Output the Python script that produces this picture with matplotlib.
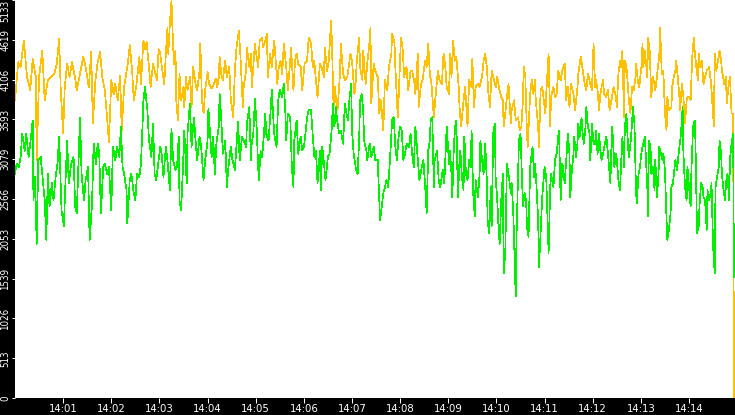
import matplotlib
matplotlib.use("Agg")
import matplotlib.pyplot as plt

# seconds after 14:00:00 and values
orange_sec = [
    0,4,7,11,15,19,22,26,27,30,34,37,41,45,49,52,55,57,60,62,65,68,71,75,77,81,85,88,92,95,97,100,103,106,109,112,115,117,120,123,125,128,131,133,136,138,141,143,146,148,151,155,157,160,162,164,167,169,172,174,177,179,
    181,183,186,188,190,191,193,195,196,198,200,201,203,205,207,210,211,213,215,218,220,222,225,227,230,231,233,235,237,240,242,245,247,250,252,254,255,257,259,262,264,267,269,272,274,276,279,281,284,285,288,289,292,294,295,297,299,300,303,305,308,309,312,314,315,318,320,323,324,327,328,331,333,335,338,340,343,344,347,349,351,353,356,358,360,
    361,364,366,369,371,373,375,377,380,382,385,386,389,391,394,395,397,399,400,402,405,406,409,411,414,416,418,420,423,424,426,429,430,433,434,437,439,442,443,444,447,449,452,454,456,459,461,464,466,469,470,473,474,477,478,481,483,485,488,490,493,495,498,499,502,503,506,508,511,513,515,517,519,522,524,527,529,532,534,536,538,541,
    542,544,546,548,550,553,554,556,559,561,563,564,566,569,570,572,574,577,579,582,584,586,588,590,592,594,596,599,601,603,606,608,609,611,613,615,618,619,622,624,627,629,631,633,634,636,638,639,642,644,646,648,649,652,653,655,657,659,661,662,665,667,668,671,673,675,677,680,682,685,687,689,691,693,696,698,701,702,705,707,710,712,714,717,719,721,
    723,724,726,728,729,731,733,734,737,739,741,744,746,749,750,752,754,755,757,759,760,762,764,765,767,769,771,773,774,776,778,781,782,783,785,788,789,791,793,795,797,798,800,803,804,806,808,810,812,813,815,818,819,821,823,824,826,828,829,831,833,835,837,838,840,842,844,846,847,849,851,852,854,856,858,860,862,865,867,868,871,872,874,877,878,880,881,884,886,887,889,891,893,895,896,
]
orange_val = [
    3840,4330,4270,4610,4140,3970,4370,4140,3070,4140,4480,3840,4100,4140,4180,4310,4630,3970,3410,4010,4310,4140,4330,4120,3970,4180,4400,4270,4010,4460,3540,4070,4330,4460,4120,3970,3580,3300,4100,3920,4050,3840,4160,3450,4010,4140,4350,4550,4220,3840,4010,4400,4050,4610,4500,4590,4270,4010,4310,4220,4100,4500,
    4440,4270,4050,4440,4780,4440,4830,5125,4830,4310,4480,3840,3580,4180,3840,4010,3750,4140,3970,4140,3750,4270,4050,3970,4220,4570,3840,3670,3970,4200,4050,3990,4030,4120,4010,4140,4400,4180,4100,4350,4140,4270,3840,3620,4220,4520,4740,4400,3750,4010,4220,4520,4270,4440,4010,4270,4570,4480,4270,4610,4650,4520,4610,4700,4140,4440,4270,4610,4480,4050,4220,4350,4180,4570,4270,3970,4350,4520,3970,4350,4440,4310,4270,3970,4220,
    4310,4350,4650,4570,4270,4350,4100,3880,4310,4270,4140,4520,4220,4350,4870,4570,3750,4010,3840,3710,4180,4570,4180,4100,4140,4270,4440,4350,3920,3970,4350,4650,4270,4100,4480,4050,4310,4610,4780,3800,4310,4220,4140,3670,3840,3450,4100,3970,4270,4440,4700,4570,4270,3620,3840,4650,4520,4140,4270,3970,4220,4220,4050,3920,4440,3750,4050,4100,4350,4270,4570,4180,4050,3620,3880,4220,4100,4050,4440,4310,4010,3920,
    4440,4140,4610,4350,4400,4010,3750,3500,3840,4010,3670,3500,4100,4010,4370,3750,4010,4050,4010,4140,4350,4440,4270,3920,3750,4220,4140,4010,4140,4010,3880,3840,3500,3670,3880,4050,3540,3710,3840,3580,3620,3450,3500,3840,4270,4140,3410,3240,3920,4100,3920,4100,3840,3500,3240,3970,4010,3840,3670,3920,4440,3500,3880,4010,3880,3920,4220,4100,4220,4310,3840,4010,3750,4050,3920,3710,4010,4180,4400,4270,4050,3970,4180,4050,3970,4570,
    4010,4100,3970,3710,3880,4010,4100,3920,3880,3970,3710,3880,4010,3880,3750,4180,4350,4270,4480,3620,4350,4270,4010,3840,3670,4010,3970,4100,4310,4100,4010,4310,4570,4270,4480,4140,4650,4480,3880,4140,4050,3970,4140,4440,4780,4180,4220,3670,3450,3880,3710,3750,4010,4140,4220,4350,4140,3880,3710,4050,3880,3540,3840,3880,3880,3840,4400,4650,4480,4270,4100,4440,4270,4350,4050,4140,4220,4270,4100,3970,3500,4440,4220,4400,4480,4350,4220,4050,4140,3800,4010,4140,3670,3670,0,
]

green_sec = [
    0,2,5,7,9,12,14,17,19,22,23,25,27,29,32,34,37,39,41,43,46,48,51,53,55,58,61,62,65,67,70,73,75,77,79,81,83,86,88,91,93,96,98,101,103,105,107,110,112,115,117,120,122,125,127,130,132,134,136,139,140,143,145,148,150,152,155,157,159,160,162,165,167,170,172,174,176,179,
    181,183,185,188,190,193,195,197,200,202,204,205,207,209,211,214,215,218,220,223,225,227,230,232,235,237,240,241,243,245,247,249,251,254,255,257,259,262,264,266,269,271,274,276,278,280,283,285,288,289,292,294,295,297,299,301,303,304,306,308,310,312,313,316,318,320,322,323,326,328,330,333,335,337,338,340,343,345,347,348,351,353,356,358,360,
    361,364,366,369,370,373,375,377,380,381,383,385,387,390,392,395,396,398,400,401,404,406,409,411,414,415,417,419,420,422,424,425,427,429,430,432,434,435,438,439,442,444,447,449,452,454,455,457,459,461,463,465,467,469,470,472,474,476,478,480,482,484,486,488,491,493,495,497,499,502,504,507,509,512,513,515,517,518,520,522,523,526,528,530,533,535,537,538,541,
    542,544,545,547,549,550,552,554,555,557,559,560,562,564,566,568,569,571,573,574,577,579,580,582,584,586,588,589,591,593,594,596,598,599,601,603,604,606,608,609,611,613,615,618,619,621,623,624,625,627,628,630,632,633,635,637,638,640,642,643,645,647,648,650,652,653,655,657,658,660,662,663,665,667,668,671,673,675,677,678,680,682,683,685,687,689,691,692,694,696,697,699,701,702,704,706,707,709,711,712,714,716,717,719,721,
    723,724,726,728,729,731,733,735,737,739,740,742,744,745,747,749,750,752,754,755,757,759,760,762,764,765,767,769,770,772,774,775,777,779,780,782,783,785,788,789,790,792,793,795,797,798,800,802,803,805,807,808,810,812,813,815,817,818,820,822,823,825,827,828,830,832,833,835,837,838,840,842,843,845,847,848,850,852,853,855,857,858,860,862,863,865,867,868,870,872,873,875,877,878,880,881,883,885,886,888,890,891,893,895,896,
]
green_val = [
    2890,3020,2980,3110,3410,3190,3410,3110,3280,3580,2550,2850,1990,3070,3110,2890,2550,2040,2890,2470,2770,2550,2890,3020,3370,2420,2210,2550,3320,2770,3020,3110,2470,2380,2980,3620,2890,2550,2810,2980,2040,2510,3280,3020,3280,3150,2380,2980,3020,2890,2980,2420,3240,3070,3240,3110,3500,2980,2890,2680,2250,2810,2890,2640,2550,2890,2850,3020,3540,3840,4010,3710,3320,3110,3540,2890,2810,3070,
    3240,3130,2850,3240,3070,2680,3470,3070,2940,2980,3370,2550,2420,2890,3450,2770,3410,3800,3240,3620,3320,3070,3370,3240,2810,3070,3320,3730,3410,3110,3370,2890,3280,3500,3920,3620,3150,3320,2720,2980,3240,3070,2940,3240,3560,3070,3370,3320,3240,3540,3750,3070,3280,3410,3860,3540,2980,2810,3190,3110,3370,3670,3410,3320,3620,3970,3580,3410,3240,3840,3970,3880,4050,3670,3320,3670,3620,2980,2720,3320,3580,3150,3370,3190,3240,
    3320,3620,3710,3710,3540,3110,3190,2770,3190,2680,3240,3020,2810,3110,3150,3500,3800,3500,3750,3620,3410,3450,3280,3800,3620,3580,3880,4050,3450,3150,3020,2940,2890,3370,3840,3920,3710,3320,3190,3070,3280,3110,3240,3070,3070,2550,2290,2470,2640,2720,2810,2720,3020,3410,3580,3620,3240,3070,3370,3500,3450,3070,3150,3280,3240,3410,3150,2980,3500,3070,2810,2980,3070,2590,2380,3190,3320,3580,3620,2720,3070,3190,2810,2720,2940,2770,3280,3500,3020,
    3190,2890,2590,3280,3540,3580,2590,3070,3190,2850,2680,3370,2890,2810,3070,2980,3450,2640,2340,2810,2590,2890,3320,3070,2890,3280,2810,2290,2120,2720,2210,3410,3540,2850,2550,2120,1990,2550,2890,1610,1870,3020,2890,2640,2770,2380,1690,1310,2080,2940,3320,3410,2810,2470,2640,2550,2210,2080,2980,3070,3240,2850,3020,2720,2290,1690,2120,2590,2720,2980,2850,2510,1870,2720,2890,2720,3070,3150,3370,3450,2550,3020,2980,2770,3070,3410,3150,2590,2940,3150,3370,3110,3280,3540,3370,3620,3450,3280,3500,3750,3500,3410,3070,3540,3280,
    3280,3450,3150,3410,3240,3070,3150,3280,3370,3150,3020,2770,3500,3370,2980,3150,3070,2810,2680,2940,3370,2980,3500,3670,3240,3110,3280,3540,3750,3540,2640,2510,2890,2980,3110,3240,3280,3370,2720,2340,3320,3240,2890,2980,2680,3070,2590,2890,3240,3150,3070,3150,2940,2290,2040,2170,2380,2720,2770,2980,3070,2940,3150,3240,3410,3750,3150,2720,2550,2980,2720,2470,2940,3500,3580,3320,2120,2210,2470,2770,2720,2590,2550,2170,2680,2550,2640,2770,1950,1610,2720,2850,2980,3320,3150,2890,2680,2550,2770,2890,2550,3070,3280,3410,1560,
]

y_ticks = [0, 513, 1026, 1539, 2053, 2566, 3079, 3593, 4106, 4619, 5133]
y_labels = ["0", "513", "1026", "1539", "2053", "2566", "3079", "3593", "4106", "4619", "5133"]
x_tick_sec = [60, 120, 180, 240, 300, 360, 420, 480, 540, 600, 660, 720, 780, 840]
x_labels = ["14:01", "14:02", "14:03", "14:04", "14:05", "14:06", "14:07",
            "14:08", "14:09", "14:10", "14:11", "14:12", "14:13", "14:14"]

W, H = 735, 415
fig = plt.figure(figsize=(W / 100, H / 100), dpi=100, facecolor="black")
ax = fig.add_axes([15 / W, 17 / H, 720 / W, 398 / H])
ax.set_facecolor("white")

ax.plot(orange_sec, orange_val, color="#ffc000", lw=0.5, antialiased=False)
ax.plot(green_sec, green_val, color="#00f000", lw=0.5, antialiased=False)

ax.set_xlim(0, 897.3)
ax.set_ylim(0, 5133)

for s in ax.spines.values():
    s.set_visible(False)

ax.set_yticks(y_ticks)
ax.set_yticklabels(y_labels, rotation=90, fontsize=7, color="white",
                   fontstretch="condensed", va="center")
ax.get_yticklabels()[-1].set_va("top")
ax.set_xticks(x_tick_sec)
ax.set_xticklabels(x_labels, fontsize=7.3, color="white")
ax.tick_params(axis="y", colors="white", length=2.5, width=0.75, pad=1.0, direction="out")
ax.tick_params(axis="x", colors="white", length=3.5, width=0.75, pad=0.8, direction="out")

fig.savefig("out.png", dpi=100, facecolor="black")
